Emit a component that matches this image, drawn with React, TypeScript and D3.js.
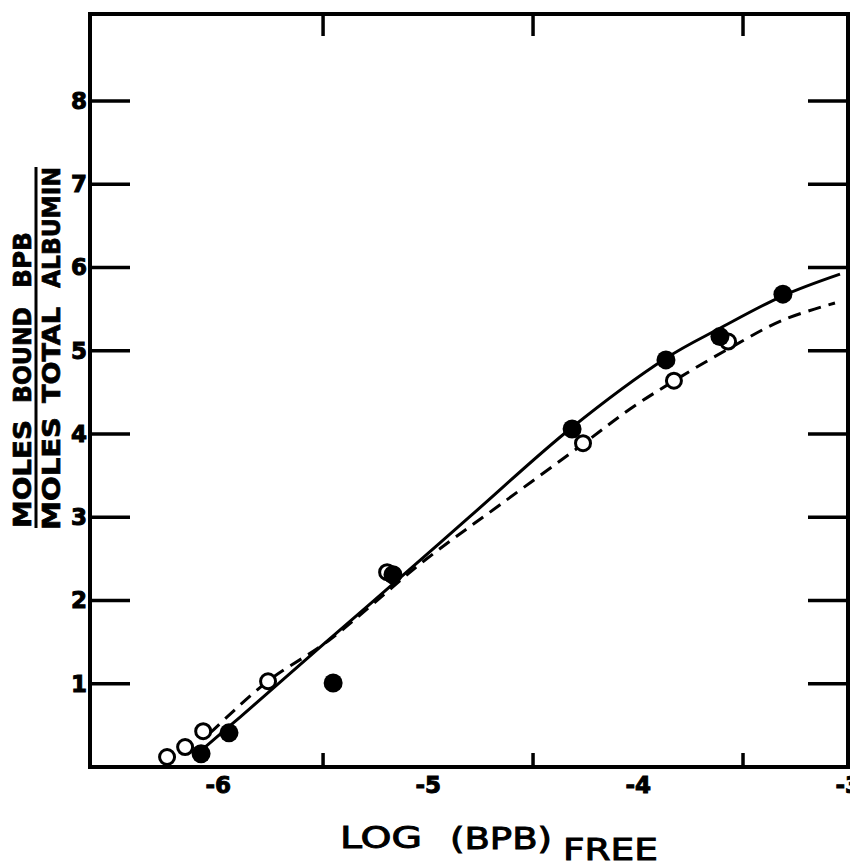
import React from 'react';
import * as d3 from 'd3';

// ---- data ----
const filledX = [-6.081, -5.948, -5.452, -5.167, -4.314, -3.867, -3.61, -3.31];
const filledY = [0.16, 0.41, 1.01, 2.31, 4.06, 4.89, 5.17, 5.68];
const openX = [-6.243, -6.157, -6.071, -5.762, -5.195, -4.262, -3.829, -3.571];
const openY = [0.12, 0.24, 0.43, 1.03, 2.34, 3.89, 4.64, 5.11];
const solidX = [-6.062, -5.895, -5.514, -5.262, -4.8, -4.324, -3.867, -3.61, -3.31, -3.038];
const solidY = [0.24, 0.6, 1.44, 1.99, 3.01, 4.06, 4.91, 5.27, 5.66, 5.92];
const dashedX = [-6.038, -5.762, -5.476, -5.014, -4.657, -4.267, -4.038, -3.814, -3.562, -3.31, -3.062];
const dashedY = [0.408, 1.033, 1.514, 2.486, 3.15, 3.87, 4.3, 4.661, 5.033, 5.369, 5.574];
const xMajorTicks = [-6, -5, -4, -3];
const xMinorTicks = [-5.5, -4.5, -3.5];
const yTicks = [1, 2, 3, 4, 5, 6, 7, 8];
const yTitleTop = ['MOLES', 'BOUND', 'BPB'];
const yTitleBottom = ['MOLES', 'TOTAL', 'ALBUMIN'];

const W = 850;
const H = 866;
const L = 90, R = 848, T = 14, B = 767;

const x = d3.scaleLinear().domain([-6.61, -3]).range([L, R]);
const y = d3.scaleLinear().domain([0, 9.045]).range([B, T]);

const line = d3
  .line<[number, number]>()
  .x((d) => x(d[0]))
  .y((d) => y(d[1]))
  .curve(d3.curveCatmullRom.alpha(0.5));

const solidPts = solidX.map((v, i) => [v, solidY[i]] as [number, number]);
const dashedPts = dashedX.map((v, i) => [v, dashedY[i]] as [number, number]);

const FONT = '"DejaVu Sans", "Liberation Sans", sans-serif';

// word placements for the rotated y title (bottom start, length along the axis)
const topWordPos = [
  [528, 108],
  [403, 96],
  [288, 56],
];
const bottomWordPos = [
  [530, 113],
  [403, 96],
  [288, 121],
];

export default function App() {
  return (
    <svg
      width={W}
      height={H}
      viewBox={`0 0 ${W} ${H}`}
      style={{ position: 'absolute', left: 0, top: 0, display: 'block', background: '#fff' }}
    >
      <rect x={0} y={0} width={W} height={H} fill="#fff" />

      {/* frame */}
      <g stroke="#000" strokeWidth={4} strokeLinecap="square" fill="none">
        <line x1={L} y1={T} x2={R} y2={T} />
        <line x1={L} y1={T} x2={L} y2={B} />
        <line x1={R} y1={T} x2={R} y2={B} />
        <line x1={L} y1={B} x2={R} y2={B} />
      </g>

      {/* ticks */}
      <g stroke="#000" strokeWidth={3.5}>
        {yTicks.map((t) => (
          <g key={'yt' + t}>
            <line x1={L} x2={L + 40} y1={y(t)} y2={y(t)} />
            <line x1={R} x2={R - 40} y1={y(t)} y2={y(t)} />
          </g>
        ))}
        {xMajorTicks
          .filter((t) => t > -3)
          .map((t) => (
            <g key={'xt' + t}>
              <line x1={x(t)} x2={x(t)} y1={T} y2={T + 27} />
              <line x1={x(t)} x2={x(t)} y1={B} y2={B - 24} />
            </g>
          ))}
        {xMinorTicks.map((t) => (
          <g key={'xm' + t}>
            <line x1={x(t)} x2={x(t)} y1={T} y2={T + 22} />
            <line x1={x(t)} x2={x(t)} y1={B} y2={B - 14} />
          </g>
        ))}
      </g>

      {/* tick labels */}
      <g fontFamily={FONT} fontWeight="bold" fontSize={23} fill="#000" stroke="#000" strokeWidth={1}>
        {yTicks.map((t) => (
          <text key={'yl' + t} x={L - 3} y={y(t) + 8} textAnchor="end">
            {t}
          </text>
        ))}
        {xMajorTicks.map((t) => (
          <text key={'xl' + t} x={x(t) + 13} y={793} textAnchor="end">
            {'-' + Math.abs(t)}
          </text>
        ))}
      </g>

      {/* curves */}
      <path d={line(solidPts) || ''} fill="none" stroke="#000" strokeWidth={3} />
      <path
        d={line(dashedPts) || ''}
        fill="none"
        stroke="#000"
        strokeWidth={3}
        strokeDasharray="13,8"
      />

      {/* open circles */}
      {openX.map((v, i) => (
        <circle
          key={'o' + i}
          cx={x(v)}
          cy={y(openY[i])}
          r={7.5}
          fill="#fff"
          stroke="#000"
          strokeWidth={3}
        />
      ))}
      {/* filled circles */}
      {filledX.map((v, i) => (
        <circle key={'f' + i} cx={x(v)} cy={y(filledY[i])} r={9.5} fill="#000" />
      ))}

      {/* y-axis title (fraction) */}
      <g fontFamily={FONT} fontWeight="bold" fontSize={24} fill="#000" stroke="#000" strokeWidth={0.7}>
        {yTitleTop.map((w, i) => (
          <text
            key={'tt' + i}
            transform={`translate(31,${topWordPos[i][0]}) rotate(-90)`}
            textLength={topWordPos[i][1]}
            lengthAdjust="spacingAndGlyphs"
          >
            {w}
          </text>
        ))}
        {yTitleBottom.map((w, i) => (
          <text
            key={'tb' + i}
            transform={`translate(60,${bottomWordPos[i][0]}) rotate(-90)`}
            textLength={bottomWordPos[i][1]}
            lengthAdjust="spacingAndGlyphs"
          >
            {w}
          </text>
        ))}
      </g>
      <line x1={36} x2={36} y1={167} y2={528} stroke="#000" strokeWidth={3} />

      {/* x-axis title */}
      <g fontFamily={FONT} fontSize={31} fill="#000" stroke="#000" strokeWidth={1}>
        <text x={340} y={848} textLength={82} lengthAdjust="spacingAndGlyphs">
          LOG
        </text>
        <text x={450} y={849} textLength={102} lengthAdjust="spacingAndGlyphs">
          (BPB)
        </text>
        <text x={563} y={860} textLength={95} lengthAdjust="spacingAndGlyphs">
          FREE
        </text>
      </g>
    </svg>
  );
}
